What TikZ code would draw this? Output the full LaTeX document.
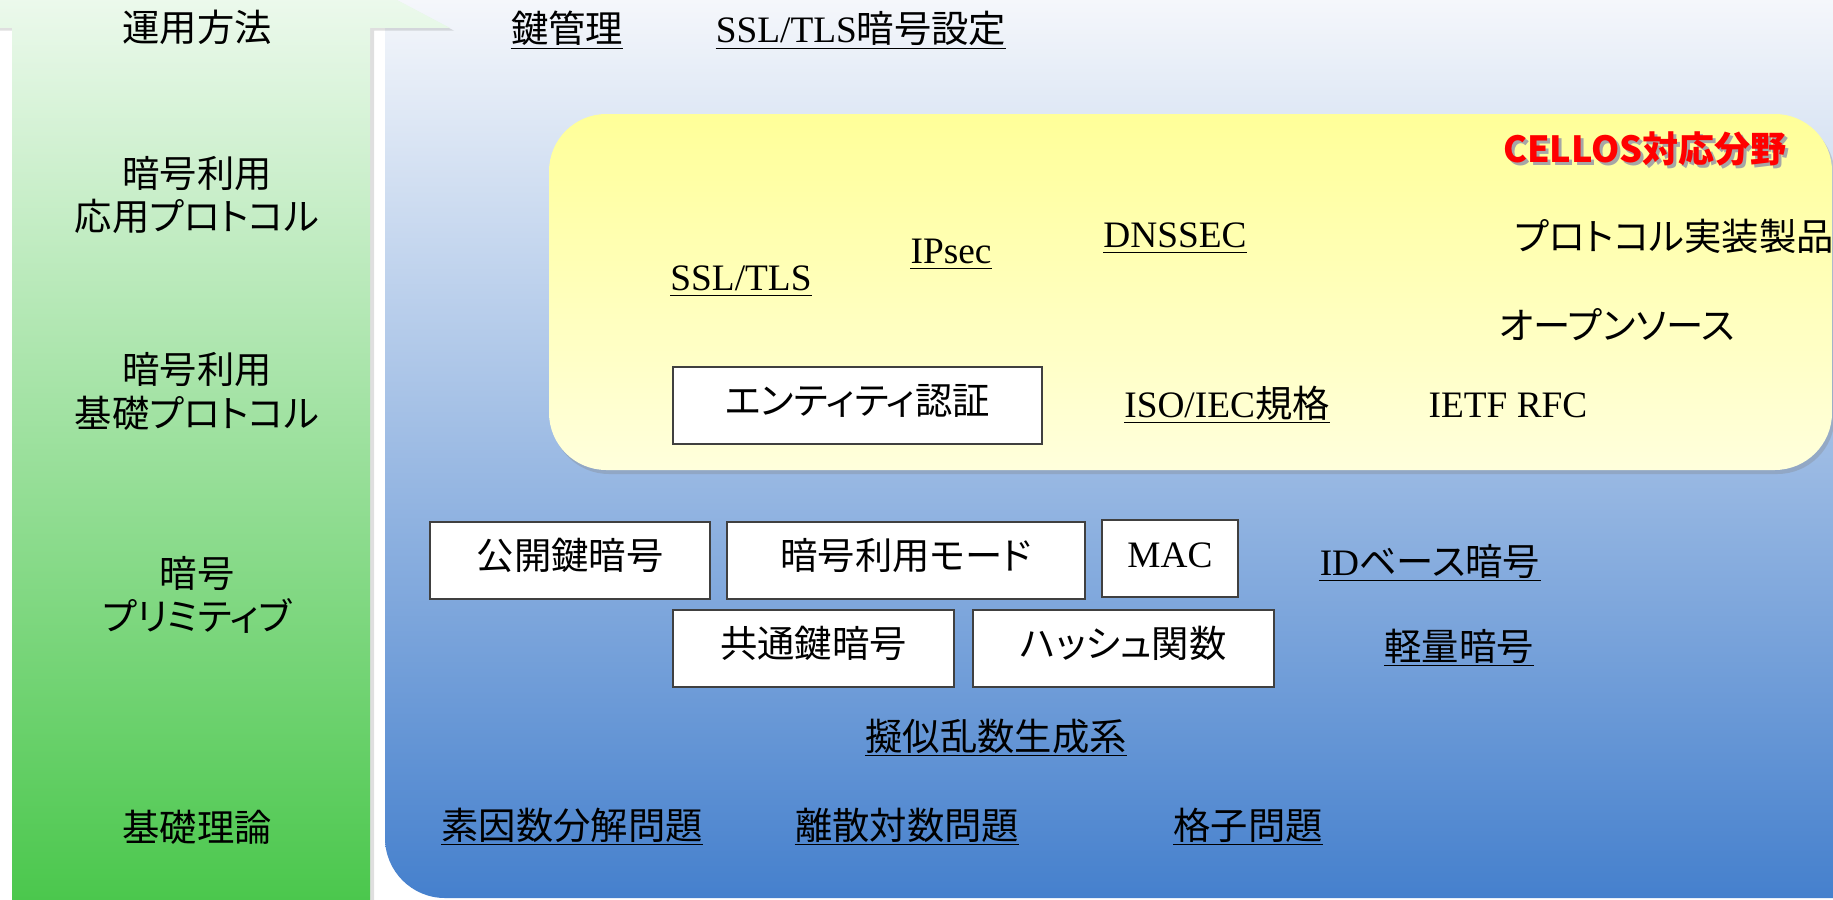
\documentclass[tikz,border=0pt]{standalone}
\usepackage{fontspec}
\setmainfont{Liberation Serif}
\newfontfamily\jp[RawFeature=+palt]{Noto Sans CJK JP}
\usetikzlibrary{shadows}
\definecolor{bluetop}{HTML}{F5F7FB}
\definecolor{bluebot}{HTML}{4580CD}
\definecolor{greentop}{HTML}{FFFFFF}
\definecolor{greenbot}{HTML}{4AC74C}
\definecolor{yellowtop}{HTML}{FFFF99}
\definecolor{yellowbot}{HTML}{FFFFDC}
\definecolor{boxline}{HTML}{404040}
\definecolor{cellosred}{HTML}{FF0000}
\begin{document}
\begin{tikzpicture}[x=0.75pt,y=-0.75pt,
  txt/.style={inner sep=0pt, anchor=base, font=\fontsize{28}{33}\selectfont},
  jtxt/.style={txt, font=\jp\fontsize{28}{33}\selectfont},
  ulline/.style={line width=1.1pt, black},
  box/.style={draw=boxline, line width=0.8pt, fill=white, inner sep=0pt,
    minimum height=57.75pt, text height=23pt, text depth=9.5pt,
    font=\jp\fontsize{28}{33}\selectfont},
  latinbox/.style={box, font=\fontsize{28}{33}\selectfont},
  cellostxt/.style={inner sep=0pt, anchor=base east, font=\jp\bfseries\fontsize{27}{32}\selectfont}]
\useasboundingbox (0,0) rectangle (1833,899);
\clip (0,0) rectangle (1833,899);
\fill[white] (0,0) rectangle (1833,899);
% blue panel
\begin{scope}
  \clip[rounded corners=45pt] (385,-100) rectangle (1950,898);
  \shade[top color=bluetop, bottom color=bluebot] (385,0) rectangle (1833,899);
\end{scope}
% green arrow
\path[top color=greentop, bottom color=greenbot,
  drop shadow={opacity=0.25, shadow xshift=3pt, shadow yshift=-2pt}]
  (12,905) -- (12,28) -- (-68,28) -- (191,-109) -- (450,28) -- (370,28) -- (370,905) -- cycle;
% yellow panel
\path[rounded corners=43pt, top color=yellowtop, bottom color=yellowbot,
  drop shadow={opacity=0.3, shadow xshift=2pt, shadow yshift=-3pt}]
  (549,114) rectangle (1832,470);
% left column labels
\node[jtxt] (l1) at (197,42) {運用方法};
\node[jtxt] (l2a) at (197,187) {暗号利用};
\node[jtxt] (l2b) at (197,230) {応用プロトコル};
\node[jtxt] (l3a) at (197,383) {暗号利用};
\node[jtxt] (l3b) at (197,427) {基礎プロトコル};
\node[jtxt] (l4a) at (197,587) {暗号};
\node[jtxt] (l4b) at (197,630) {プリミティブ};
\node[jtxt] (l5) at (197,841) {基礎理論};
% top row
\node[jtxt] (km) at (567,43) {鍵管理};
\node[txt] (sslset) at (861,43) {SSL/TLS{\jp 暗号設定}};
% yellow area
\node[cellostxt, text=gray!70] (cellossh) at (1790,165) {CELLOS対応分野};
\node[cellostxt, text=cellosred] (cellos) at (1787,162) {CELLOS対応分野};
\node[txt] (ssl) at (741,290) {SSL/TLS};
\node[txt] (ipsec) at (951,263) {IPsec};
\node[txt] (dnssec) at (1175,247) {DNSSEC};
\node[jtxt] (impl) at (1674,250) {プロトコル実装製品};
\node[jtxt] (oss) at (1617,339) {オープンソース};
\node[box, minimum width=276.75pt] (ent) at (857.5,405.5) {エンティティ認証};
\node[txt] (iso) at (1227,417) {ISO/IEC{\jp 規格}};
\node[txt] (ietf) at (1508,417) {IETF RFC};
% primitives
\node[box, minimum width=210pt] (pk) at (570,560.5) {公開鍵暗号};
\node[box, minimum width=268.5pt] (mode) at (906,560.5) {暗号利用モード};
\node[latinbox, minimum width=102pt] (mac) at (1170,558.5) {MAC};
\node[txt] (idb) at (1430,575) {ID{\jp ベース暗号}};
\node[box, minimum width=210.75pt] (sk) at (813.5,648.5) {共通鍵暗号};
\node[box, minimum width=225.75pt] (hash) at (1123.5,648.5) {ハッシュ関数};
\node[jtxt] (light) at (1459,660) {軽量暗号};
\node[jtxt] (prng) at (996,750) {擬似乱数生成系};
% foundations
\node[jtxt] (fact) at (572,839) {素因数分解問題};
\node[jtxt] (dlog) at (907,839) {離散対数問題};
\node[jtxt] (latt) at (1248,839) {格子問題};
% underlines
\foreach \n in {km,sslset,ssl,ipsec,dnssec,iso,idb,light,prng,fact,dlog,latt}
  \draw[ulline] ([yshift=-4pt]\n.base west) -- ([yshift=-4pt]\n.base east);
\end{tikzpicture}
\end{document}
